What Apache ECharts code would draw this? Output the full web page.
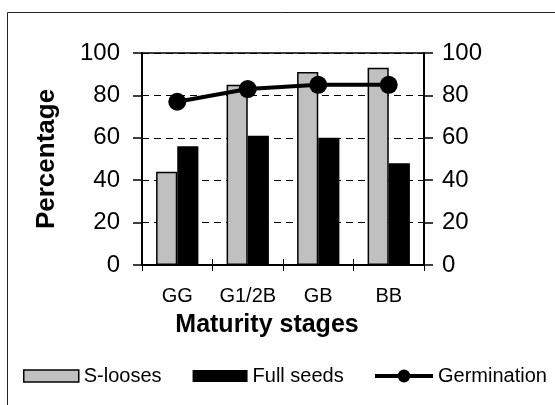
<!DOCTYPE html>
<html>
<head>
<meta charset="utf-8">
<script src="https://cdn.jsdelivr.net/npm/echarts@6/dist/echarts.min.js"></script>
<style>
  html, body { margin: 0; padding: 0; background: #fff; }
  #chart { width: 555px; height: 405px; }
</style>
</head>
<body>
<div id="chart"></div>
<script>
// Maturity stages and measured percentages
const stages = ['GG', 'G1/2B', 'GB', 'BB'];
const sLooses = [44, 85, 91, 93];
const fullSeeds = [56, 61, 60, 48];
const germination = [77, 83, 85, 85];
const yTicks = [0, 20, 40, 60, 80, 100];

const FONT = '"Liberation Sans", Arial, sans-serif';
const chart = echarts.init(document.getElementById('chart'), null, { renderer: 'canvas' });

const yAxisBase = {
  type: 'value',
  min: yTicks[0],
  max: yTicks[yTicks.length - 1],
  interval: yTicks[1] - yTicks[0],
  axisLine: { show: true, lineStyle: { color: '#000', width: 2 } },
  axisTick: { show: true, inside: false, length: 9, lineStyle: { color: '#000', width: 1.5 } },
  axisLabel: { color: '#000', fontFamily: FONT, fontSize: 24 }
};

const legendText = { color: '#000', fontFamily: FONT, fontSize: 20 };

chart.setOption({
  animation: false,
  backgroundColor: '#fff',
  graphic: [{
    type: 'rect',
    shape: { x: 7.5, y: 12.5, width: 600, height: 450 },
    style: { fill: 'none', stroke: '#222', lineWidth: 1 },
    silent: true,
    z: -10
  }],
  grid: {
    left: 142, top: 53, right: 131, bottom: 140,
    show: true, borderColor: '#000', borderWidth: 1.5, backgroundColor: 'transparent'
  },
  legend: [{
    left: 23, top: 366, padding: 0,
    itemWidth: 55, itemHeight: 12, itemGap: 31,
    icon: 'rect',
    textStyle: legendText,
    data: [
      { name: 'S-looses', itemStyle: { color: '#c0c0c0', borderColor: '#000', borderWidth: 1.5 } },
      { name: 'Full seeds', itemStyle: { color: '#000' } }
    ]
  }, {
    left: 373, top: 366, padding: 0,
    itemWidth: 58, itemHeight: 16,
    textStyle: legendText,
    data: [
      { name: 'Germination', lineStyle: { color: '#000', width: 4 }, itemStyle: { color: '#000' } }
    ]
  }],
  xAxis: [{
    type: 'category',
    data: stages,
    name: 'Maturity stages',
    nameLocation: 'middle',
    nameGap: 48,
    nameTextStyle: { color: '#000', fontFamily: FONT, fontSize: 25, fontWeight: 'bold', padding: [0, 32, 0, 0] },
    axisLine: { show: true, lineStyle: { color: '#000', width: 2 } },
    axisTick: { show: true, inside: false, length: 6, lineStyle: { color: '#000', width: 1 } },
    axisLabel: { color: '#000', fontFamily: FONT, fontSize: 20, margin: 21, interval: 0 }
  }, {
    type: 'category',
    data: stages,
    position: 'bottom',
    axisLine: { show: false },
    axisTick: { show: true, inside: true, length: 6, lineStyle: { color: '#000', width: 1 } },
    axisLabel: { show: false }
  }],
  yAxis: [Object.assign({}, yAxisBase, {
    position: 'left',
    name: 'Percentage',
    nameLocation: 'middle',
    nameGap: 82,
    nameTextStyle: { color: '#000', fontFamily: FONT, fontSize: 26, fontWeight: 'bold' },
    axisLabel: Object.assign({}, yAxisBase.axisLabel, { margin: 22 }),
    splitLine: { show: true, lineStyle: { color: '#000', width: 1, type: [7, 5] } }
  }), Object.assign({}, yAxisBase, {
    position: 'right',
    axisLabel: Object.assign({}, yAxisBase.axisLabel, { margin: 18 }),
    splitLine: { show: false }
  })],
  series: [{
    name: 'S-looses',
    type: 'bar',
    data: sLooses,
    barWidth: '30%',
    barGap: '0%',
    itemStyle: { color: '#c0c0c0', borderColor: '#000', borderWidth: 1.5 }
  }, {
    name: 'Full seeds',
    type: 'bar',
    data: fullSeeds,
    barWidth: '30%',
    barGap: '0%',
    itemStyle: { color: '#000' }
  }, {
    name: 'Germination',
    type: 'line',
    data: germination,
    symbol: 'circle',
    symbolSize: 18,
    lineStyle: { color: '#000', width: 4 },
    itemStyle: { color: '#000' },
    z: 5
  }]
});
</script>
</body>
</html>
